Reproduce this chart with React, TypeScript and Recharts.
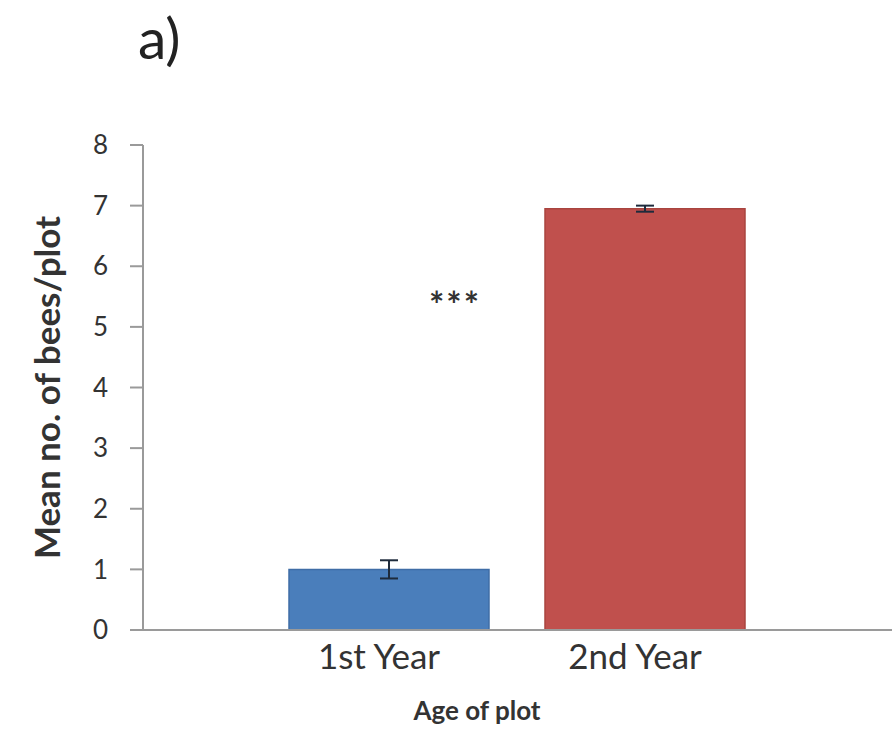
import { BarChart, Bar, XAxis, YAxis, ErrorBar, Cell, Label } from "recharts";

const CATEGORIES = ["1st Year", "2nd Year"];
const MEANS = [1.0, 6.95];
const ERRORS = [0.15, 0.05];
const BAR_COLORS = ["#4a7ebb", "#c0504d"];
const BAR_STROKES = ["#3f6da6", "#a9443f"];
const Y_TICKS = [0, 1, 2, 3, 4, 5, 6, 7, 8];

const data = CATEGORIES.map((name, i) => ({ name, mean: MEANS[i], err: ERRORS[i] }));

const FONT = "Lato, 'Open Sans', sans-serif";
const TEXT = "#333";

function YTitle(props: any) {
  const vb = props.viewBox || {};
  const cx = 46;
  const cy = vb.y + vb.height / 2;
  return (
    <text
      x={cx}
      y={cy}
      transform={`rotate(-90 ${cx} ${cy})`}
      textAnchor="middle"
      dominantBaseline="central"
      fontFamily={FONT}
      fontWeight={700}
      fontSize={35}
      fill={TEXT}
    >
      Mean no. of bees/plot
    </text>
  );
}

function XTitle(props: any) {
  const vb = props.viewBox || {};
  return (
    <text
      x={477}
      y={vb.y + 90}
      textAnchor="middle"
      fontFamily={FONT}
      fontWeight={700}
      fontSize={26}
      fill={TEXT}
    >
      Age of plot
    </text>
  );
}

export default function App() {
  return (
    <div style={{ position: "absolute", left: 0, top: 0, width: 892, height: 756, background: "#fff" }}>
      <div
        style={{
          position: "absolute",
          left: 138,
          top: 2,
          fontFamily: FONT,
          fontSize: 57,
          color: "#222",
          lineHeight: 1.25,
        }}
      >
        a)
      </div>
      <div
        style={{
          position: "absolute",
          left: 455,
          top: 304,
          transform: "translate(-50%, -50%)",
          fontFamily: FONT,
          fontSize: 36,
          fontWeight: 700,
          letterSpacing: 2,
          color: "#333",
        }}
      >
        ***
      </div>
      <BarChart
        width={892}
        height={756}
        data={data}
        margin={{ top: 145, right: 0, bottom: 26, left: 0 }}
        style={{ position: "absolute", left: 0, top: 0 }}
      >
        <XAxis
          dataKey="name"
          height={100}
          padding={{ left: 118, right: 119 }}
          tickLine={false}
          tickMargin={8}
          axisLine={{ stroke: "#9a9a9a", strokeWidth: 2 }}
          tick={{ fontFamily: FONT, fontSize: 35, fill: TEXT, dx: -10 }}
        >
          <Label content={<XTitle />} />
        </XAxis>
        <YAxis
          width={143}
          domain={[0, 8]}
          ticks={Y_TICKS}
          interval={0}
          tickSize={13}
          tickMargin={22}
          axisLine={{ stroke: "#9a9a9a", strokeWidth: 2 }}
          tickLine={{ stroke: "#9a9a9a", strokeWidth: 2 }}
          tick={{ fontFamily: FONT, fontSize: 26, fill: TEXT }}
        >
          <Label content={<YTitle />} />
        </YAxis>
        <Bar dataKey="mean" barSize={200} isAnimationActive={false}>
          {data.map((d, i) => (
            <Cell key={d.name} fill={BAR_COLORS[i]} stroke={BAR_STROKES[i]} strokeWidth={1.5} />
          ))}
          <ErrorBar dataKey="err" width={9} stroke="#1e2b3c" strokeWidth={2} isAnimationActive={false} />
        </Bar>
      </BarChart>
    </div>
  );
}
